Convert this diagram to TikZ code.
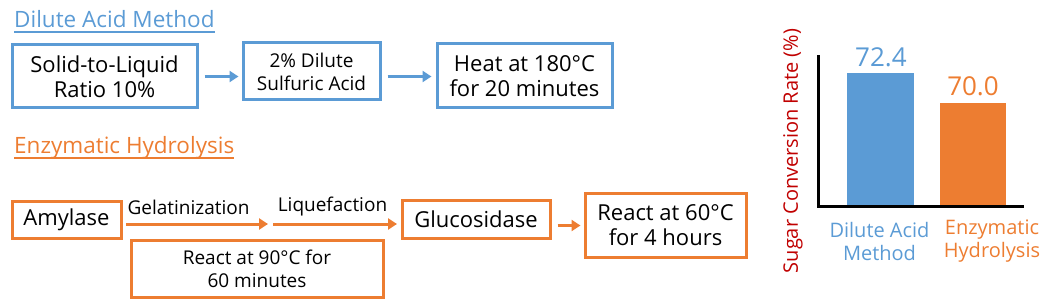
\documentclass[tikz,border=0pt]{standalone}
\usepackage{fontspec}
\setmainfont{Open Sans}
\usetikzlibrary{arrows.meta}
\definecolor{cblue}{HTML}{5B9BD5}
\definecolor{corange}{HTML}{ED7D31}
\definecolor{cred}{HTML}{C00000}
\tikzset{
  bbox/.style={draw=cblue, line width=3pt, fill=white, align=center, inner sep=0pt, font=\fontsize{22}{25}\selectfont},
  obox/.style={draw=corange, line width=3pt, fill=white, align=center, inner sep=0pt, font=\fontsize{22}{25}\selectfont},
  barrow/.style={draw=cblue, line width=3pt, -{Triangle[length=9pt,width=11pt]}},
  oarrow/.style={draw=corange, line width=3pt, -{Triangle[length=9pt,width=11pt]}},
  title/.style={anchor=base west, inner sep=0pt, font=\fontsize{22.5}{26}\selectfont},
  small/.style={font=\fontsize{19}{23}\selectfont},
}
\begin{document}
\begin{tikzpicture}[x=1pt,y=-1pt]
\useasboundingbox (0,0) rectangle (1053,302);
% Dilute acid
\node[title, text=cblue] (t1) at (14,28) {Dilute Acid Method};
\draw[cblue, line width=1.2pt] ([yshift=-4pt]t1.base west) -- ([yshift=-4pt]t1.base east);
\node[bbox, minimum width=185pt, minimum height=63pt] (b1) at (104.5,76.5) {Solid-to-Liquid\\Ratio 10\%};
\node[bbox, small, minimum width=137pt, minimum height=57pt] (b2) at (311.5,71.5) {2\% Dilute\\Sulfuric Acid};
\node[bbox, minimum width=175pt, minimum height=64pt] (b3) at (524.5,76) {Heat at 180°C\\for 20 minutes};
\draw[barrow, shorten <=6pt, shorten >=3pt] (b1.east) -- (b1.east -| b2.west);
\draw[barrow, shorten <=6pt, shorten >=4pt] (b2.east |- b1.east) -- (b1.east -| b3.west);
% Enzymatic
\node[title, text=corange] (t2) at (14,154) {Enzymatic Hydrolysis};
\draw[corange, line width=1.2pt] ([yshift=-4pt]t2.base west) -- ([yshift=-4pt]t2.base east);
\node[obox, minimum width=109pt, minimum height=36pt] (amy) at (66.5,220) {Amylase};
\node[obox, small, minimum width=252pt, minimum height=57pt] (r90) at (257,268.5) {React at 90°C for\\60 minutes};
\node[obox, minimum width=148pt, minimum height=37pt] (glu) at (476,219.5) {Glucosidase};
\node[obox, minimum width=161pt, minimum height=63pt] (r60) at (665.5,225.5) {React at 60°C\\for 4 hours};
\coordinate (g1) at (126,224);
\coordinate (g2) at (268,224);
\coordinate (l1) at (273,224);
\coordinate (l2) at (397,224);
\draw[oarrow] (g1) -- (g2);
\draw[oarrow] (l1) -- (l2);
\node[small, inner sep=0pt] (gel) at (188.5,207) {Gelatinization};
\node[small, inner sep=0pt] (liq) at (332.5,207) {Liquefaction};
\draw[oarrow, shorten <=6pt, shorten >=3pt] (glu.east |- r60.west) -- (r60.west);
% Chart
\coordinate (ytop) at (818,57);
\coordinate (orig) at (818,207);
\coordinate (xend) at (1022,207);
\fill[cblue] (847,73) rectangle (914,205.5);
\fill[corange] (940,103) rectangle (1006,205.5);
\draw[line width=3pt, line cap=rect] (ytop) -- (orig) -- (xend);
\node[text=cblue, font=\fontsize{26}{30}\selectfont, inner sep=0pt] (v1) at (881,57) {72.4};
\node[text=corange, font=\fontsize{26}{30}\selectfont, inner sep=0pt] (v2) at (973,86) {70.0};
\node[text=cblue, align=center, font=\fontsize{20}{23}\selectfont, inner sep=0pt] (c1) at (879.5,241) {Dilute Acid\\Method};
\node[text=corange, align=center, font=\fontsize{20}{23}\selectfont, inner sep=0pt] (c2) at (992,241) {Enzymatic\\Hydrolysis};
\node[text=cred, rotate=90, font=\fontsize{20}{24}\selectfont, inner sep=0pt] (yl) at (793,151) {Sugar Conversion Rate (\%)};
\end{tikzpicture}
\end{document}
